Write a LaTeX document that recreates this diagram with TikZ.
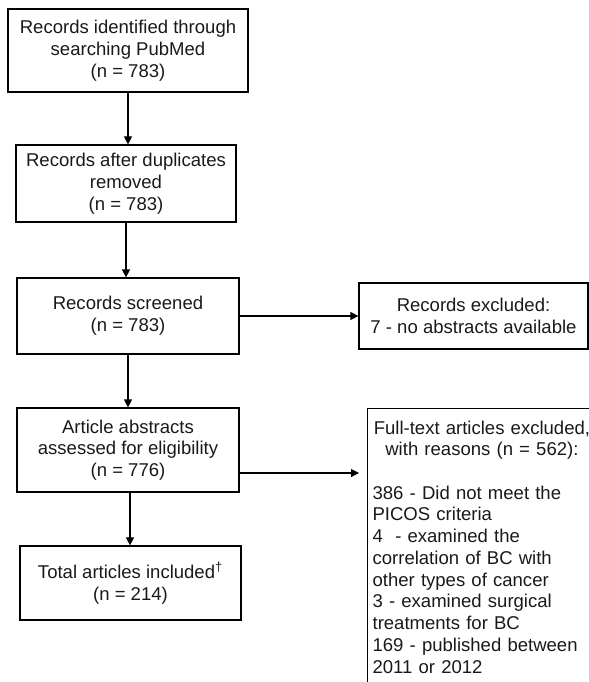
\documentclass[tikz,border=0pt]{standalone}
\usepackage{fontspec}
\setmainfont{Liberation Sans}
\usepackage{tikz}
\usetikzlibrary{arrows.meta, positioning, calc}
\newcommand{\flowfont}{\fontsize{13.9}{16.3}\selectfont}
\tikzset{
    stage/.style={rectangle, draw=black, line width=0.9pt, align=center, text=black!90, font=\flowfont, inner sep=2pt},
    reasons/.style={rectangle, draw=black, line width=0.9pt, text=black!90, font=\flowfont, inner xsep=3.75pt, inner ysep=9pt, text width=164pt},
    arrow/.style={line width=0.8pt, -{Triangle[length=6pt, width=6pt]}}
}

\begin{document}
\begin{tikzpicture}[x=0.75pt, y=-0.75pt]
        \useasboundingbox (0,0) rectangle (589,682);
        \clip (0,0) rectangle (589,682);

        % Main flow
        \node (ident) [stage, minimum width=180pt, minimum height=62.25pt] at (128, 50.5) {Records identified through\\ searching PubMed\\ (n = 783)};
        \node (dupes) [stage, minimum width=165pt, minimum height=57.75pt] at (126, 183.5) {Records after duplicates\\ removed\\ (n = 783)};
        \node (screen) [stage, minimum width=166.5pt, minimum height=57pt] at (128, 316) {Records screened\\ (n = 783)};
        \node (assess) [stage, minimum width=166.5pt, minimum height=63pt] at (128, 450) {Article abstracts\\ assessed for eligibility\\ (n = 776)};
        \node (total) [stage, minimum width=165.75pt, minimum height=55.5pt] at (130.5, 583) {Total articles included\textsuperscript{\textdagger}\\ (n = 214)};

        % Exclusions
        \node (noabs) [stage, minimum width=171.75pt, minimum height=49.5pt] at (473.5, 316) {Records excluded:\\ 7 - no abstracts available};
        \node (fulltext) [reasons, anchor=north west] at (367, 408) {{\centering\mbox{Full-text articles excluded,}\\ with reasons (n = 562):\par}
            \vspace{16.3pt}\raggedright
            386 - Did not meet the\\ PICOS criteria\\ 4\ \ - examined the\\ correlation of BC with\\ other types of cancer\\ 3 - examined surgical\\ treatments for BC\\ 169 - published between\\ 2011 or 2012\par\vspace{12pt}};
        \coordinate (fulltextin) at (359, 473);

        % Connections
        \draw[arrow] (ident.south) -- (ident.south |- dupes.north);
        \draw[arrow] (dupes.south) -- (dupes.south |- screen.north);
        \draw[arrow] (screen.south) -- (screen.south |- assess.north);
        \draw[arrow] ([xshift=1.5pt]assess.south) -- ([xshift=1.5pt]assess.south |- total.north);
        \draw[arrow] (screen.east) -- (noabs.west);
        \draw[arrow] (assess.east |- fulltextin) -- (fulltextin);
    \end{tikzpicture}
\end{document}
